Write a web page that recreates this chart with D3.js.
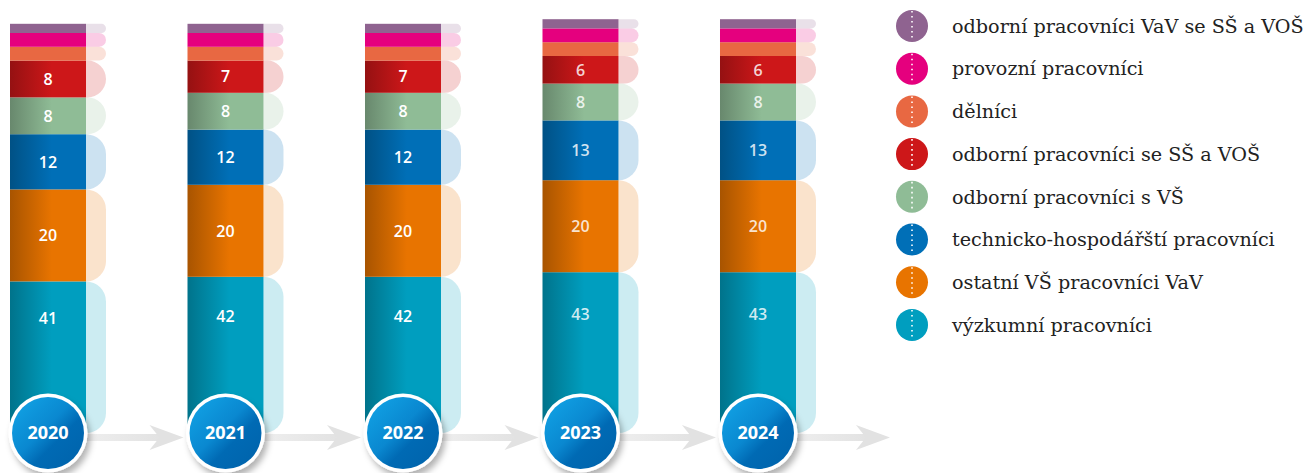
<!DOCTYPE html>
<meta charset="utf-8">
<style>
body { margin: 0; background: #fff; }
.segLabel { font: 600 16px "Open Sans"; fill: #fff; text-anchor: middle; }
.yearLabel { font: 700 18px "Open Sans"; fill: #fff; text-anchor: middle; }
.legendLabel { font: 19.2px "DejaVu Serif"; fill: #222; }
</style>
<body>
<script src="https://d3js.org/d3.v7.min.js"></script>
<script>

const years = ["2020", "2021", "2022", "2023", "2024"];

// categories, bottom of the stack first
const categories = ["výzkumní pracovníci",
                    "ostatní VŠ pracovníci VaV",
                    "technicko-hospodářští pracovníci",
                    "odborní pracovníci s VŠ",
                    "odborní pracovníci se SŠ a VOŠ",
                    "dělníci",
                    "provozní pracovníci",
                    "odborní pracovníci VaV se SŠ a VOŠ"];

const colors = ["#009ebf", "#e87400", "#006fb7", "#8fbc96",
                "#cd1719", "#e86842", "#e5007e", "#8f6390"];

// shares in %, per category across years
const vyzkumni   = [41, 42, 42, 43, 43];
const ostatniVS  = [20, 20, 20, 20, 20];
const technicko  = [12, 12, 12, 13, 13];
const odborniVS  = [8, 8, 8, 8, 8];
const odborniSS  = [8, 7, 7, 6, 6];
// small ones, no labels in the picture (estimated)
const delnici    = [3, 3, 3, 3, 3];
const provozni   = [3, 3, 3, 3, 3];
const odborniVaV = [2, 2, 2, 2, 2];

const series = [vyzkumni, ostatniVS, technicko, odborniVS, odborniSS, delnici, provozni, odborniVaV];
const labelled = 5;

let width = 1309,
    height = 473,
    circleY = 433,
    paleW = 20;

let svg = d3.select("body").append("svg")
            .attr("width", width)
            .attr("height", height),
    defs = svg.append("defs");

let x = d3.scaleBand()
            .domain(years)
            .range([10, 796])
            .paddingInner(0.5718)
            .paddingOuter(0),
    y = d3.scaleLinear()
            .domain([0, 100])
            .range([470, 10]),
    color = d3.scaleOrdinal()
            .domain(categories)
            .range(colors);

// horizontal shading of the bars
colors.forEach((c, i) => {
    let g = defs.append("linearGradient").attr("id", "bar" + i);
    g.append("stop").attr("offset", 0).attr("stop-color", d3.color(c).darker(0.9));
    g.append("stop").attr("offset", 0.55).attr("stop-color", c);
    g.append("stop").attr("offset", 1).attr("stop-color", c);
});

let cg = defs.append("linearGradient").attr("id", "circ")
            .attr("x1", 0).attr("y1", 0).attr("x2", 1).attr("y2", 1);
cg.append("stop").attr("offset", 0).attr("stop-color", "#12a6e8");
cg.append("stop").attr("offset", 0.45).attr("stop-color", "#0a88d0");
cg.append("stop").attr("offset", 0.62).attr("stop-color", "#006ab4");
cg.append("stop").attr("offset", 1).attr("stop-color", "#0062aa");

let ag = defs.append("linearGradient").attr("id", "arrow");
ag.append("stop").attr("offset", 0).attr("stop-color", "#f4f4f4");
ag.append("stop").attr("offset", 1).attr("stop-color", "#e2e2e2");

defs.append("filter").attr("id", "shadow")
        .attr("x", -0.3).attr("y", -0.3).attr("width", 1.7).attr("height", 1.7)
    .append("feDropShadow")
        .attr("dx", 3).attr("dy", 5)
        .attr("stdDeviation", 3)
        .attr("flood-color", "#000")
        .attr("flood-opacity", 0.3);

// stack the data
let rows = years.map((yr, j) => {
    let r = {year: yr};
    categories.forEach((c, i) => r[c] = series[i][j]);
    return r;
});
let stacked = d3.stack().keys(categories)(rows);

// arrows between years
let arrows_g = svg.append("g");
years.forEach((yr, j) => {
    let cx = x(yr) + x.bandwidth() / 2,
        tip = j < years.length - 1 ? x(years[j + 1]) + x.bandwidth() / 2 - 42 : cx + 132;
    arrows_g.append("rect")
        .attr("x", cx)
        .attr("y", circleY + 1)
        .attr("width", tip - 20 - cx)
        .attr("height", 7)
        .attr("fill", "url(#arrow)");
    arrows_g.append("path")
        .attr("d", `M${tip},${circleY + 4.5} L${tip - 34},${circleY - 8} L${tip - 24},${circleY + 4.5} L${tip - 34},${circleY + 17} Z`)
        .attr("fill", "#e2e2e2");
});

// pale rounded tabs to the right of each segment
function tab(x0, y0, y1) {
    let r = Math.min(paleW, (y1 - y0) / 2);
    return `M${x0},${y0} H${x0 + paleW - r} A${r},${r} 0 0 1 ${x0 + paleW},${y0 + r}`
         + ` V${y1 - r} A${r},${r} 0 0 1 ${x0 + paleW - r},${y1} H${x0} Z`;
}

let layers = svg.append("g")
    .selectAll("g")
    .data(stacked)
    .join("g");

layers.selectAll("path.pale")
    .data(d => d.map(p => ({p, key: d.key, i: d.index})))
    .join("path")
        .attr("class", "pale")
        .attr("d", d => tab(x(d.p.data.year) + x.bandwidth(), y(d.p[1]), Math.min(y(d.p[0]), circleY)))
        .attr("fill", d => color(d.key))
        .attr("fill-opacity", 0.2);

// the bottom of each column disappears behind the year badge
layers.selectAll("rect")
    .data(d => d.map(p => ({p, key: d.key, i: d.index})))
    .join("rect")
        .attr("x", d => x(d.p.data.year))
        .attr("y", d => y(d.p[1]))
        .attr("width", x.bandwidth())
        .attr("height", d => Math.min(y(d.p[0]), circleY) - y(d.p[1]))
        .attr("fill", d => d.i < labelled ? `url(#bar${d.i})` : color(d.key));

layers.filter(d => d.index < labelled)
    .selectAll("text")
    .data(d => d.map(p => ({p, i: d.index})))
    .join("text")
        .attr("class", "segLabel")
        .attr("x", d => x(d.p.data.year) + x.bandwidth() / 2)
        .attr("y", d => (y(d.p[1]) + Math.min(y(d.p[0]), 356)) / 2)
        .attr("dy", "0.36em")
        .attr("fill-opacity", d => +d.p.data.year >= 2023 ? 0.82 : 1)
        .text(d => d.p[1] - d.p[0]);

// year badges
let badge = svg.append("g")
    .selectAll("g")
    .data(years)
    .join("g")
        .attr("transform", d => `translate(${x(d) + x.bandwidth() / 2},${circleY})`);

badge.append("circle")
    .attr("r", 39.5)
    .attr("fill", "#fff")
    .attr("filter", "url(#shadow)");

badge.append("circle")
    .attr("r", 36)
    .attr("fill", "url(#circ)");

badge.append("text")
    .attr("class", "yearLabel")
    .attr("dy", "0.36em")
    .text(d => d);

// legend, top of the stack first
let legend_g = svg.append("g")
    .attr("transform", "translate(912,26)");

let lg = legend_g.selectAll("g")
    .data(categories.slice().reverse())
    .join("g")
        .attr("transform", (d, i) => `translate(0,${i * 42.7})`);

lg.append("circle")
    .attr("r", 16)
    .attr("fill", color);

lg.append("line")
    .attr("y1", -15)
    .attr("y2", 15)
    .attr("stroke", "#fff")
    .attr("stroke-width", 1.6)
    .attr("stroke-dasharray", "1.6,3.4");

lg.append("text")
    .attr("class", "legendLabel")
    .attr("x", 40)
    .attr("dy", "0.35em")
    .text(d => d);

</script>
